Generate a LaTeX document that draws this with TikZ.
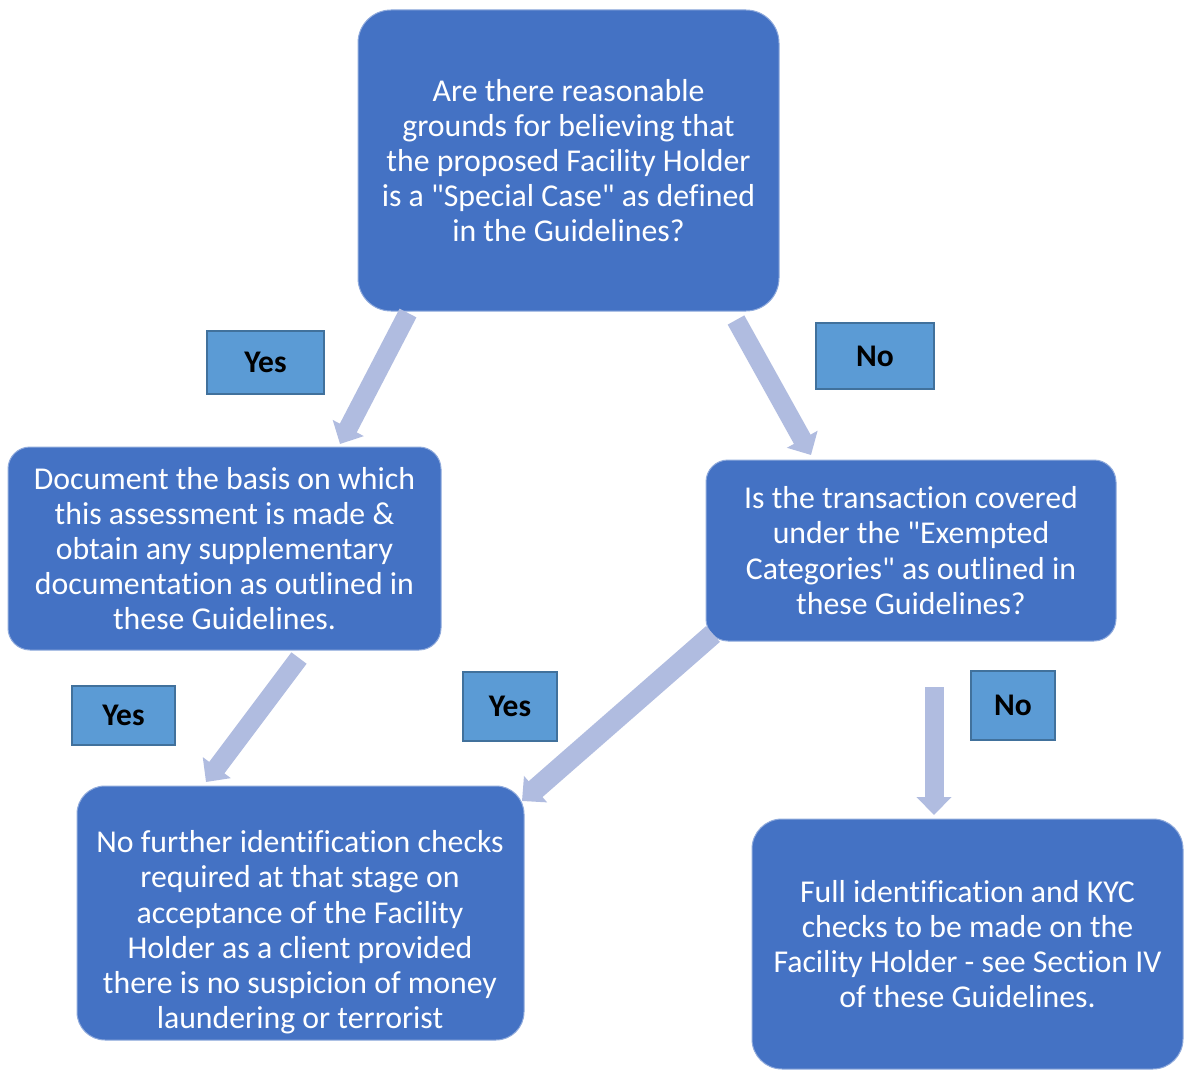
\documentclass[tikz,border=0pt]{standalone}
\usepackage{fontspec}
\setmainfont{Carlito}[Ligatures={TeXOff,NoCommon}]
\usetikzlibrary{arrows.meta}
\definecolor{boxblue}{RGB}{68,114,196}
\definecolor{lblfill}{RGB}{91,155,213}
\definecolor{lblline}{RGB}{65,113,156}
\definecolor{arrcol}{RGB}{176,188,224}
\begin{document}
\begin{tikzpicture}[x=1pt,y=-1pt,
  box/.style={fill=boxblue, draw=white!40!boxblue, line width=1pt, inner sep=0pt,
     text=white, align=center, font=\fontsize{31.8}{35.2}\selectfont},
  lbl/.style={fill=lblfill, draw=lblline, line width=1.8pt, inner sep=0pt,
     text=black, font=\fontsize{31.5}{35}\selectfont\bfseries},
  arr/.style={draw=arrcol, line width=19pt, -{Triangle[width=34pt,length=18pt]}},
  txt/.style={text=white, align=center, inner sep=0pt, font=\fontsize{31.8}{35.2}\selectfont}]
\clip (0,0) rectangle (1184,1070);
\fill[white] (0,0) rectangle (1184,1070);

% main boxes
\node[box, rounded corners=33pt, minimum width=421pt, minimum height=301pt] (q1) at (568.5,160.5)
  {Are there reasonable\\grounds for believing that\\the proposed Facility Holder\\is a "Special Case" as defined\\in the Guidelines?};
\node[box, rounded corners=22pt, minimum width=433pt, minimum height=203pt] (doc) at (224.5,548.5)
  {Document the basis on which\\this assessment is made \&\\obtain any supplementary\\documentation as outlined in\\these Guidelines.};
\node[box, rounded corners=22pt, minimum width=410pt, minimum height=181pt] (q2) at (911,550.5)
  {Is the transaction covered\\under the "Exempted\\Categories" as outlined in\\these Guidelines?};
\node[box, rounded corners=28pt, minimum width=447pt, minimum height=254pt] (nofurther) at (300.5,913) {};
\begin{scope}
  \clip[rounded corners=28pt] (nofurther.north west) rectangle (nofurther.south east);
  \node[txt] (nftext) at (300,950)
    {No further identification checks\\required at that stage on\\acceptance of the Facility\\Holder as a client provided\\there is no suspicion of money\\laundering or terrorist\\financing.};
\end{scope}
\node[box, rounded corners=30pt, minimum width=431pt, minimum height=250pt] (full) at (967.5,944)
  {Full identification and KYC\\checks to be made on the\\Facility Holder - see Section IV\\of these Guidelines.};

% labels
\node[lbl, minimum width=117pt, minimum height=63pt] (yes1) at (265.5,362.5) {Yes};
\node[lbl, minimum width=118pt, minimum height=66pt] (no1) at (875,356) {No};
\node[lbl, minimum width=103pt, minimum height=59pt] (yes2) at (123.5,715.5) {Yes};
\node[lbl, minimum width=94pt, minimum height=69pt] (yes3) at (510,706.5) {Yes};
\node[lbl, minimum width=84pt, minimum height=69pt] (no2) at (1013,705.5) {No};

% arrow end points
\coordinate (a1s) at (408,313);
\coordinate (a1e) at (340,444);
\coordinate (a2s) at (736,320);
\coordinate (a2e) at (811,455);
\coordinate (a3s) at (299,658);
\coordinate (a3e) at (206,782);
\coordinate (a4s) at (713,634);
\coordinate (a4e) at (522,801);
\coordinate (a5s) at (934,687);
\coordinate (a5e) at (934,815);

\draw[arr] (a1s) -- (a1e);
\draw[arr] (a2s) -- (a2e);
\draw[arr] (a3s) -- (a3e);
\draw[arr, line width=21pt] (a4s) -- (a4e);
\draw[arr] (a5s) -- (a5e);
\end{tikzpicture}
\end{document}
